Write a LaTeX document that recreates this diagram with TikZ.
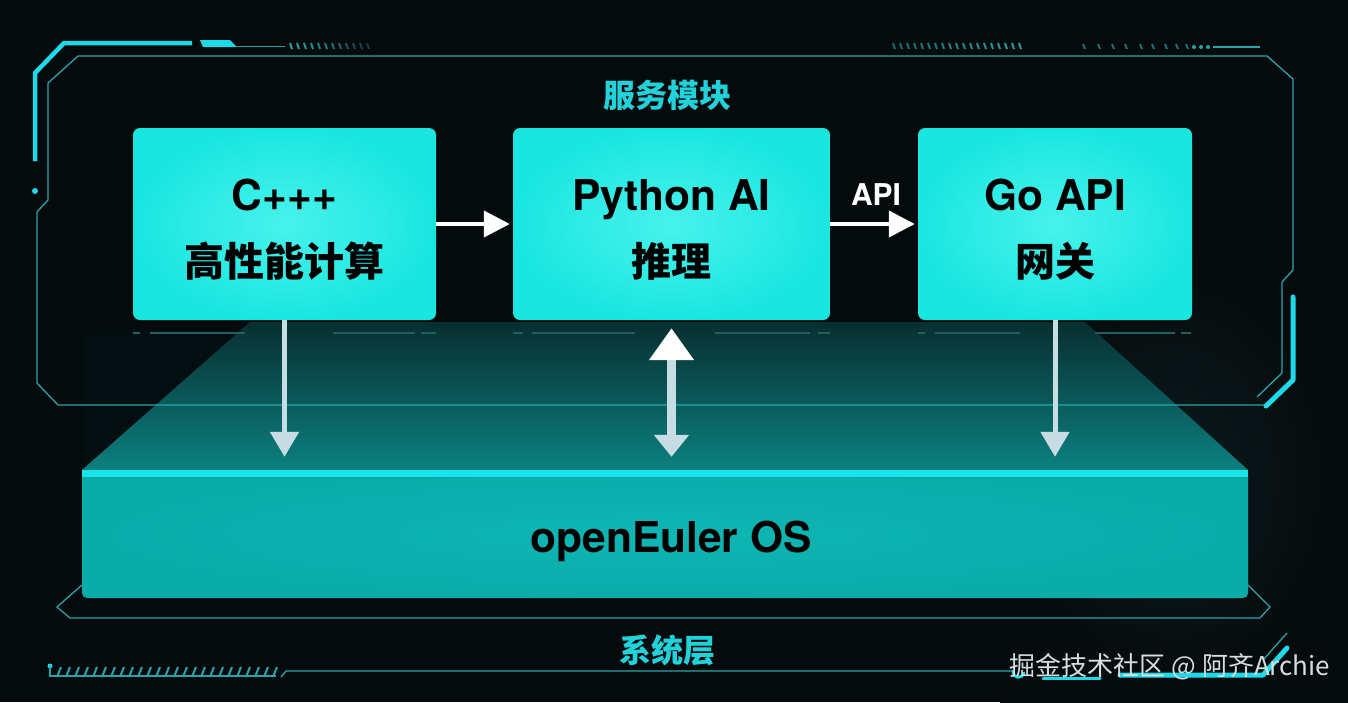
\documentclass[tikz,border=0pt]{standalone}
\usepackage{fontspec}
\setmainfont{TeX Gyre Heros}
\newfontfamily\cjk{Noto Sans CJK SC}
\usetikzlibrary{arrows.meta}
\definecolor{bgc}{RGB}{5,10,12}
\definecolor{bgr}{RGB}{12,26,28}
\definecolor{framec}{RGB}{40,165,170}
\definecolor{brightc}{RGB}{30,218,232}
\definecolor{boxc}{RGB}{26,230,224}
\definecolor{boxin}{RGB}{72,242,236}
\definecolor{labc}{RGB}{34,210,218}
\definecolor{osc}{RGB}{10,172,170}
\definecolor{osin}{RGB}{14,182,180}
\definecolor{ostop}{RGB}{24,228,234}
\definecolor{trtop}{RGB}{8,46,48}
\definecolor{trbot}{RGB}{12,128,128}
\definecolor{arrg}{RGB}{200,220,228}
\definecolor{dashc}{RGB}{32,96,98}
\definecolor{wmc}{RGB}{215,222,222}
\tikzset{
  svc/.style={rectangle, rounded corners=7pt, inner sep=0pt, minimum height=192pt,
    shade, inner color=boxin, outer color=boxc},
  svctext/.style={align=center, text=black, yshift=-6pt,
    font=\fontsize{42.5}{66}\selectfont\bfseries},
  thinline/.style={draw=framec, line width=1.3pt, line join=miter},
  brightline/.style={draw=brightc, line cap=round, line join=round},
  harrow/.style={draw=white, line width=4pt, -{Triangle[width=26pt,length=26pt]}, shorten >=3pt},
  varrow/.style={draw=arrg, line width=5pt, -{Triangle[width=28pt,length=25pt]}, shorten >=13pt},
  seclabel/.style={text=labc, font=\cjk\fontsize{32}{32}\selectfont\bfseries},
}
\begin{document}
\begin{tikzpicture}[x=1pt,y=-1pt]
\useasboundingbox (0,0) rectangle (1348,702);
% background
\fill[bgc] (0,0) rectangle (1348,702);
\fill[inner color=bgr, outer color=bgc] (1000,250) rectangle (1348,702);
% perspective face
\fill[black!60!trtop, opacity=0.6] (82,330) rectangle (250,470);
\shade[top color=trtop, bottom color=trbot] (250,322) -- (1085,322) -- (1248,470) -- (82,470) -- cycle;
% faint dashes under boxes
\foreach \a/\b in {133/140,150/245,333/415,421/436,513/523,532/635,715/810,818/830,918/925,935/1020,1095/1175,1181/1191}
  \draw[dashc, line width=1.5pt] (\a,333) -- (\b,333);
% service frame
\draw[thinline] (1257,397) -- (1282,373) -- (1282,282) -- (1293,270) -- (1293,79) -- (1267,56) -- (78,56) -- (48,83) -- (48,200) -- (37,212) -- (37,383) -- (58,405) -- (1264,405);
\draw[brightline, line width=5pt] (1293,297) -- (1293,380) -- (1266,406);
\draw[brightline, line width=4.5pt, line cap=butt, line join=miter] (192,43) -- (64,43) -- (35,73) -- (35,161);
\fill[brightc] (35,191) circle (3pt);
\fill[brightc] (200,40) -- (230,40) -- (237,47) -- (203,47) -- cycle;
\draw[framec, line width=1.3pt] (237,46.5) -- (285,46.5);
\foreach \i in {0,...,11}
  \draw[framec, line width=2pt, opacity={1-\i*0.06}] ({290+\i*7},43) -- ({292+\i*7},49);
\foreach \i in {0,...,18}
  \draw[framec, line width=2pt, opacity={0.6+\i*0.02}] ({893+\i*7},43) -- ({895+\i*7},49);
\foreach \x in {1083,1098,1112,1125,1140,1152,1165,1176,1186}
  \draw[framec, line width=1.8pt, opacity=0.7] (\x,44) -- (\x+2,49);
\foreach \x in {1194,1201,1208}
  \fill[framec] (\x,47) circle (2pt);
\draw[framec, line width=2pt] (1213,47) -- (1260,47);
% boxes
\node[svc, minimum width=303pt, label={[svctext]center:{C+++\\{\cjk\fontsize{40}{66}\selectfont 高性能计算}}}] (cpp) at (284.5,224) {};
\node[svc, minimum width=317pt, label={[svctext]center:{Python AI\\{\cjk\fontsize{40}{66}\selectfont 推理}}}] (py) at (671.5,224) {};
\node[svc, minimum width=274pt, label={[svctext]center:{Go API\\{\cjk\fontsize{40}{66}\selectfont 网关}}}] (go) at (1055,224) {};
\node[seclabel] (svclab) at (667,95) {服务模块};
% OS block
\node[rectangle, rounded corners=5pt, minimum width=1166pt, minimum height=128pt, inner sep=0pt,
  shade, inner color=osin, outer color=osc,
  label={[font=\fontsize{42.5}{42}\selectfont\bfseries, text=black, xshift=6pt, yshift=-7pt]center:openEuler OS}] (os) at (665,534) {};
\fill[ostop] (os.north west) rectangle ([yshift=-7pt]os.north east);
% bottom frame
\draw[thinline] (82,585) -- (57,607) -- (70,618) -- (1260,618) -- (1270,607) -- (1248,585);
\node[seclabel] (syslab) at (667,650) {系统层};
% bottom-left accents
\fill[brightc] (50,666) circle (2.5pt);
\draw[framec, line width=1.3pt] (50,666) -- (50,676) -- (276,676);
\foreach \i in {0,...,24}
  \draw[framec, line width=2pt] ({57+\i*9},677) -- ({61+\i*9},667);
\draw[framec, line width=1.3pt] (281,677) -- (286,671) -- (1014,671);
% bottom-right accents
\draw[brightline, line width=3pt] (1013,671) .. controls (1013,679) and (1022,679) .. (1024,673);
\draw[brightline, line width=3pt] (1043,678) -- (1100,678);
\draw[brightline, line width=5pt] (1120,675) -- (1263,675) -- (1287,648);
\draw[framec, line width=1.3pt] (1263,660) -- (1287,633);
% connectors
\draw[harrow] (cpp.east) -- (py.west);
\draw[harrow] (py.east) -- (go.west) node[midway, xshift=2pt, yshift=29pt, text=white, font=\fontsize{30}{30}\selectfont\bfseries] (api) {API};
\draw[varrow] (cpp.south) -- (cpp.south |- os.north);
\draw[varrow] (go.south) -- (go.south |- os.north);
\draw[draw=arrg, line width=9pt, shorten <=8pt, shorten >=13pt,
  {Triangle[width=43pt,length=32pt,color=white]}-{Triangle[width=34pt,length=22pt]}] (py.south) -- (py.south |- os.north);
% watermark
\node[text=wmc, font=\cjk\fontsize{26}{26}\selectfont] (wm) at (1170,667) {掘金技术社区 @ 阿齐Archie};
\end{tikzpicture}
\end{document}
